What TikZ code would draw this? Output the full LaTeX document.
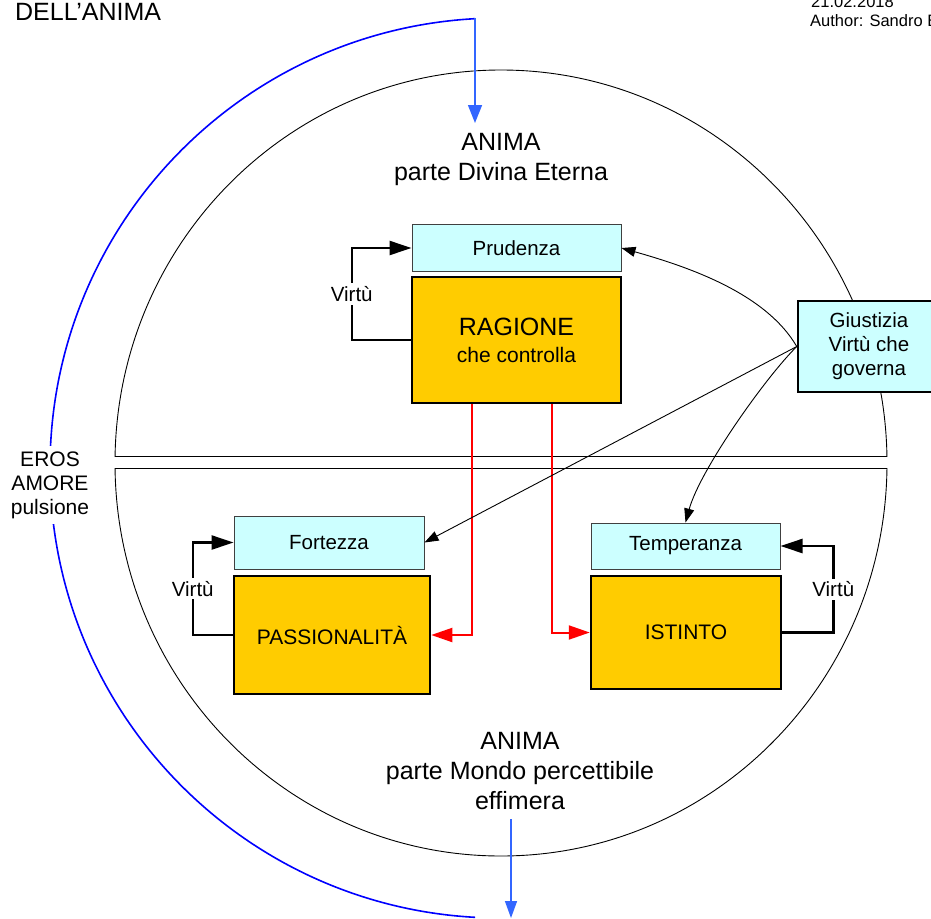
\documentclass[tikz,border=0pt]{standalone}
\usepackage{fontspec}
\setmainfont{Liberation Sans}
\usetikzlibrary{arrows.meta}
\definecolor{lcyan}{HTML}{CCFFFF}
\definecolor{gold}{HTML}{FFCC00}
\definecolor{arrblue}{HTML}{3366FF}
\definecolor{arcblue}{HTML}{0000FF}
\begin{document}
\begin{tikzpicture}[x=1pt,y=-1pt,
  big/.style={font=\fontsize{25}{30}\selectfont, align=center, inner sep=0pt},
  mid/.style={font=\fontsize{20.5}{24.5}\selectfont, align=center},
  virtue/.style={draw=black!75, line width=1pt, fill=lcyan, inner sep=0pt, mid},
  faculty/.style={draw=black, line width=2.5pt, fill=gold, inner sep=0pt, font=\fontsize{21}{27}\selectfont, align=center},
  loopline/.style={line width=2.5pt, -{Triangle[length=22pt,width=14pt]}},
  thinarr/.style={line width=0.9pt, -{Triangle[length=14pt,width=10pt]}},
  redline/.style={red, line width=2pt, -{Triangle[length=21pt,width=14pt]}},
  bluearr/.style={arrblue, line width=1.5pt, -{Triangle[length=18pt,width=14pt]}},
  lbl/.style={mid, fill=white, inner sep=3pt},
  outline/.style={line width=0.9pt}]
\useasboundingbox (0,0) rectangle (931,918);
\fill[white] (0,0) rectangle (931,918);

% soul halves
\begin{scope}
  \clip (0,0) rectangle (931,456);
  \draw[outline] (501,463) ellipse [x radius=386pt, y radius=393pt];
\end{scope}
\draw[outline] (115.1,456) -- (886.9,456);
\begin{scope}
  \clip (0,468) rectangle (931,918);
  \draw[outline] (501,463) ellipse [x radius=386pt, y radius=393pt];
\end{scope}
\draw[outline] (115.1,468) -- (886.9,468);

% eros arc
\begin{scope}
  \clip (0,0) rectangle (475,918);
  \draw[arcblue, line width=1.6pt] (500,468) circle [radius=450pt];
\end{scope}

% texts
\node[big, anchor=base west] (title) at (15,20) {DELL’ANIMA};
\node[anchor=base west, inner sep=0pt, font=\fontsize{16.5}{20}\selectfont] (date) at (811,7) {21.02.2018};
\node[anchor=base west, inner sep=0pt, font=\fontsize{16.5}{20}\selectfont] (author) at (810,26.5) {Author: Sandro B};
\node[big] (anima1) at (501,159) {ANIMA\\parte Divina Eterna};
\node[big] (anima2) at (520,771) {ANIMA\\parte Mondo percettibile\\effimera};
\node[align=center, font=\fontsize{21}{24}\selectfont, fill=white, inner xsep=2pt, inner ysep=5pt] (eros) at (50,485) {EROS\\AMORE\\pulsione};

% boxes
\node[virtue, minimum width=209pt, minimum height=47pt] (prud) at (516.5,248) {Prudenza};
\node[faculty, minimum width=209pt, minimum height=126pt] (rag) at (516.5,340)
  {{\fontsize{25}{27}\selectfont RAGIONE}\\che controlla};
\node[virtue, minimum width=190pt, minimum height=53pt] (fort) at (329,542.5) {Fortezza};
\node[faculty, minimum width=196pt, minimum height=118pt] (pas) at (332,635) {PASSIONALITÀ};
\node[virtue, minimum width=189pt, minimum height=46pt] (temp) at (685.5,546) {Temperanza};
\node[faculty, minimum width=190pt, minimum height=113pt] (ist) at (686,632.5) {ISTINTO};
\node[draw=black, line width=2.5pt, fill=lcyan, inner sep=0pt, align=center,
  font=\fontsize{20.5}{24}\selectfont, minimum width=142pt, minimum height=91pt] (giu) at (869,346.5)
  {Giustizia\\Virtù che\\governa};

% virtue loops
\draw[loopline] (rag.west) -- ++(-59,0) |- (prud.west) node[lbl, pos=0.25] {Virtù};
\draw[loopline] (pas.west) -- ++(-40,0) |- (fort.west) node[lbl, pos=0.25] {Virtù};
\draw[loopline] (ist.east) -- ++(51,0) |- (temp.east) node[lbl, pos=0.25] {Virtù};

% red control arrows
\draw[redline] (rag.south west) ++(61,0) |- (pas.east);
\draw[redline] (rag.south west) ++(141,0) |- (ist.west);

% justice arrows
\draw[thinarr] (giu.west) .. controls (765,292) and (685,266) .. (prud.east);
\draw[thinarr] (giu.west) -- (fort.east);
\draw[thinarr] (giu.west) .. controls (765,378) and (700,470) .. (temp.north);

% blue arrows
\coordinate (btop) at (475,18);
\coordinate (btopend) at (475,123);
\draw[bluearr] (btop) -- (btopend);
\coordinate (bbot) at (511,819);
\coordinate (bbotend) at (511,918);
\draw[bluearr, -{Triangle[length=17pt,width=12pt]}] (bbot) -- (bbotend);
\end{tikzpicture}
\end{document}
